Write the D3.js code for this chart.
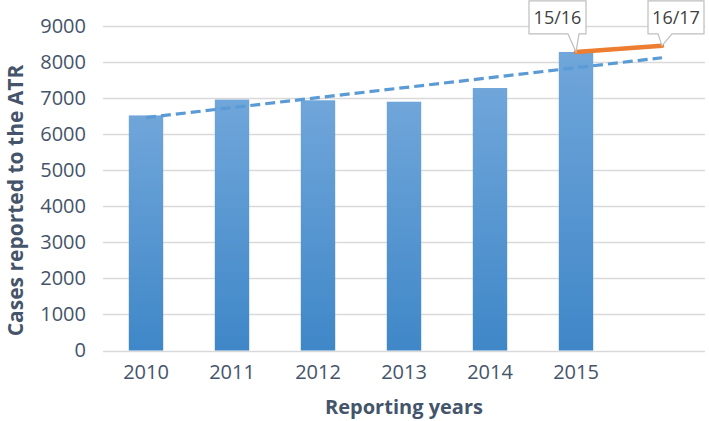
<!DOCTYPE html>
<html>
<head>
<meta charset="utf-8">
<script src="https://cdn.jsdelivr.net/npm/d3@7"></script>
<style>
  html, body { margin: 0; padding: 0; background: #fff; }
  svg { display: block; font-family: "Open Sans", sans-serif; }
</style>
</head>
<body>
<svg id="chart" width="709" height="421"></svg>
<script>
// ---- data ----
const categories = ["2010", "2011", "2012", "2013", "2014", "2015", "2016"];
const tickLabels = ["2010", "2011", "2012", "2013", "2014", "2015", ""];
const casesValues = [6520, 6960, 6940, 6900, 7280, 8280, null];
const fyValues = [null, null, null, null, null, 8280, 8450];
const fyLabels = [null, null, null, null, null, "15/16", "16/17"];
const trendValues = [6460, null, null, null, null, null, 8120];
const yTicks = [0, 1000, 2000, 3000, 4000, 5000, 6000, 7000, 8000, 9000];

// ---- layout ----
const W = 709, H = 421;
const margin = { left: 103, right: 4, top: 26, bottom: 70.5 };
const svg = d3.select("#chart");
const textColor = "#44546a";

const x = d3.scaleBand().domain(categories).range([margin.left, W - margin.right]).paddingInner(0.6).paddingOuter(0.3);
const y = d3.scaleLinear().domain([0, 9000]).range([H - margin.bottom, margin.top]);

// gradient
const defs = svg.append("defs");
const grad = defs.append("linearGradient").attr("id", "barGrad").attr("x1", 0).attr("y1", 0).attr("x2", 0).attr("y2", 1);
grad.append("stop").attr("offset", "0%").attr("stop-color", "#70a6da");
grad.append("stop").attr("offset", "100%").attr("stop-color", "#3f87c8");

// gridlines
svg.append("g").selectAll("line").data(yTicks).join("line")
  .attr("x1", margin.left).attr("x2", W - margin.right)
  .attr("y1", d => Math.round(y(d)) + 0.5).attr("y2", d => Math.round(y(d)) + 0.5)
  .attr("stroke", "#d9d9d9").attr("stroke-width", 1.3);

// y axis labels
const yAxis = d3.axisLeft(y).tickValues(yTicks).tickSize(0).tickPadding(0).tickFormat(d3.format("d"));
const gy = svg.append("g").attr("transform", `translate(86,0)`).call(yAxis);
gy.select(".domain").remove();
gy.selectAll("text").attr("fill", textColor).style("font-size", "20px").style("font-family", "'Open Sans', sans-serif");

// x axis labels
const xAxis = d3.axisBottom(x).tickSize(0).tickPadding(0).tickFormat((d, i) => tickLabels[i]);
const gx = svg.append("g").attr("transform", `translate(0,${H - margin.bottom + 14})`).call(xAxis);
gx.select(".domain").remove();
gx.selectAll("text").attr("fill", textColor).style("font-size", "20px").style("font-family", "'Open Sans', sans-serif");

// bars
svg.append("g").selectAll("rect").data(categories.map((c, i) => ({ c, v: casesValues[i] })).filter(d => d.v != null)).join("rect")
  .attr("x", d => x(d.c)).attr("width", x.bandwidth())
  .attr("y", d => y(d.v)).attr("height", d => y(0) - y(d.v))
  .attr("fill", "url(#barGrad)");

// trend line
const cx = c => x(c) + x.bandwidth() / 2;
const trendPts = categories.map((c, i) => ({ c, v: trendValues[i] })).filter(d => d.v != null);
svg.append("path").datum(trendPts)
  .attr("d", d3.line().x(d => cx(d.c)).y(d => y(d.v)))
  .attr("fill", "none").attr("stroke", "#5b9bd5").attr("stroke-width", 3.2).attr("stroke-dasharray", "10,5");

// financial-year line
const fyPts = categories.map((c, i) => ({ c, v: fyValues[i], label: fyLabels[i] })).filter(d => d.v != null);
svg.append("path").datum(fyPts)
  .attr("d", d3.line().x(d => cx(d.c)).y(d => y(d.v)))
  .attr("fill", "none").attr("stroke", "#ed7d31").attr("stroke-width", 4.5).attr("stroke-linecap", "round");

// callouts (box offsets relative to the point)
const calloutGeom = [
  { bx0: -47, bx1: 10, by0: -51, by1: -18, p0: -8, p1: 3 },
  { bx0: -14, bx1: 42, by0: -45, by1: -12, p0: -4, p1: 10 }
];
fyPts.forEach((d, i) => {
  const g = calloutGeom[i];
  const px = cx(d.c), py = y(d.v);
  const path = `M${px + g.bx0},${py + g.by0} H${px + g.bx1} V${py + g.by1} H${px + g.p1} L${px},${py} L${px + g.p0},${py + g.by1} H${px + g.bx0} Z`;
  svg.append("path").attr("d", path).attr("fill", "#fff").attr("stroke", "#bfbfbf").attr("stroke-width", 1.2);
  svg.append("text").attr("x", px + (g.bx0 + g.bx1) / 2).attr("y", py + (g.by0 + g.by1) / 2 + 6.5)
    .attr("text-anchor", "middle").attr("fill", "#404040").style("font-size", "18px").text(d.label);
});

// axis titles
svg.append("text").attr("x", 404).attr("y", 414).attr("text-anchor", "middle")
  .attr("fill", textColor).style("font-size", "20px").style("font-weight", "bold").text("Reporting years");
svg.append("text").attr("transform", "translate(23,200.5) rotate(-90)").attr("text-anchor", "middle")
  .attr("fill", textColor).style("font-size", "21px").style("font-weight", "bold").text("Cases reported to the ATR");
</script>
</body>
</html>
